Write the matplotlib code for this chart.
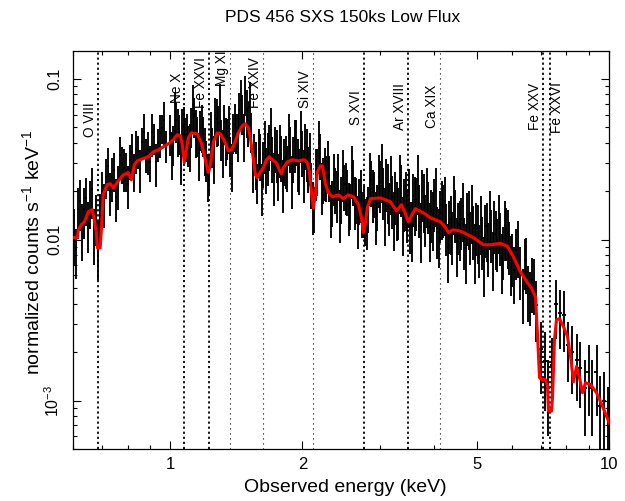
import numpy as np
import matplotlib.pyplot as plt
from matplotlib.ticker import NullFormatter

plt.rcParams['font.family'] = ['Liberation Sans', 'DejaVu Sans']
plt.rcParams['mathtext.fontset'] = 'custom'
plt.rcParams['mathtext.rm'] = 'Liberation Sans'
plt.rcParams['mathtext.it'] = 'Liberation Sans:italic'
plt.rcParams['mathtext.bf'] = 'Liberation Sans:bold'

# binned spectrum (keV, counts/s/keV), soft band
e_soft = [0.604, 0.617, 0.630, 0.643, 0.657, 0.671, 0.685, 0.700, 0.714, 0.730,
          0.745, 0.761, 0.777, 0.794, 0.810, 0.828, 0.845, 0.863, 0.882, 0.900,
          0.920, 0.939, 0.959, 0.979,
          0.610, 0.623, 0.636, 0.650, 0.664, 0.678, 0.692, 0.707, 0.722, 0.737,
          0.753, 0.769, 0.785, 0.802, 0.819, 0.836, 0.854, 0.872, 0.891, 0.910,
          0.929, 0.949, 0.969]
f_soft = [0.0113, 0.0155, 0.0120, 0.0181, 0.0175, 0.0113, 0.0093, 0.0202, 0.0247, 0.0201,
          0.0271, 0.0220, 0.0299, 0.0271, 0.0312, 0.0269, 0.0358, 0.0407, 0.0341, 0.0306,
          0.0432, 0.0398, 0.0495, 0.0388,
          0.0087, 0.0174, 0.0155, 0.0127, 0.0208, 0.0140, 0.0142, 0.0170, 0.0287, 0.0246,
          0.0183, 0.0336, 0.0281, 0.0222, 0.0350, 0.0366, 0.0277, 0.0465, 0.0361, 0.0468,
          0.0304, 0.0460, 0.0552]
err_soft = [0.0043, 0.0054, 0.0046, 0.0060, 0.0058, 0.0043, 0.0037, 0.0061, 0.0069, 0.0060,
            0.0073, 0.0066, 0.0078, 0.0073, 0.0078, 0.0070, 0.0082, 0.0090, 0.0082, 0.0077,
            0.0095, 0.0092, 0.0104, 0.0089,
            0.0030, 0.0061, 0.0054, 0.0044, 0.0073, 0.0049, 0.0050, 0.0051, 0.0086, 0.0074,
            0.0055, 0.0101, 0.0084, 0.0067, 0.0105, 0.0110, 0.0083, 0.0140, 0.0108, 0.0140,
            0.0091, 0.0138, 0.0166]

# 1-6 keV
e_mid = [1.000, 1.016, 1.032, 1.048, 1.065, 1.082, 1.099, 1.117, 1.134, 1.152,
         1.171, 1.189, 1.208, 1.228, 1.247, 1.267, 1.287, 1.308, 1.328, 1.349,
         1.371, 1.393, 1.415, 1.437, 1.460, 1.483, 1.507, 1.531, 1.555, 1.580,
         1.605, 1.630, 1.656, 1.682, 1.709, 1.736, 1.764, 1.792, 1.820, 1.849,
         1.878, 1.908, 1.938, 1.969, 2.000, 2.032, 2.064, 2.097, 2.130, 2.164,
         2.198, 2.233, 2.269, 2.305, 2.341, 2.378, 2.416, 2.454, 2.493, 2.533,
         2.573, 2.614, 2.655, 2.697, 2.740, 2.784, 2.828, 2.873, 2.918, 2.965,
         3.012, 3.060, 3.108, 3.158, 3.208, 3.259, 3.310, 3.363, 3.416, 3.470,
         3.525, 3.581, 3.638, 3.696, 3.755, 3.814, 3.875, 3.936, 3.999, 4.062,
         4.127, 4.192, 4.259, 4.326, 4.395, 4.465, 4.536, 4.608, 4.681, 4.755,
         4.831, 4.908, 4.986, 5.065, 5.145, 5.227, 5.310, 5.394, 5.480, 5.567,
         5.655, 5.745, 5.837, 5.929, 6.024]
f_mid = [0.0463, 0.0398, 0.0551, 0.0469, 0.0506, 0.0446, 0.0396, 0.0517, 0.0598, 0.0455,
         0.0496, 0.0454, 0.0319, 0.0261, 0.0389, 0.0594, 0.0529, 0.0431, 0.0536, 0.0437,
         0.0342, 0.0475, 0.0473, 0.0641, 0.0622, 0.0814, 0.0521, 0.0480, 0.0356, 0.0231,
         0.0343, 0.0308, 0.0283, 0.0394, 0.0330, 0.0381, 0.0258, 0.0334, 0.0319, 0.0290,
         0.0381, 0.0329, 0.0420, 0.0279, 0.0359, 0.0397, 0.0285, 0.0229, 0.0162, 0.0277,
         0.0346, 0.0244, 0.0252, 0.0251, 0.0176, 0.0211, 0.0257, 0.0185, 0.0222, 0.0207,
         0.0169, 0.0237, 0.0184, 0.0182, 0.0150, 0.0135, 0.0162, 0.0234, 0.0200, 0.0167,
         0.0228, 0.0206, 0.0232, 0.0165, 0.0183, 0.0194, 0.0155, 0.0215, 0.0174, 0.0149,
         0.0126, 0.0188, 0.0178, 0.0160, 0.0200, 0.0140, 0.0168, 0.0150, 0.0174, 0.0118,
         0.0148, 0.0160, 0.0123, 0.0127, 0.0109, 0.0150, 0.0125, 0.0134, 0.0101, 0.0144,
         0.0109, 0.0118, 0.0124, 0.0091, 0.0102, 0.0121, 0.0093, 0.0113, 0.0127, 0.0099,
         0.0108, 0.0088, 0.0116, 0.0094, 0.0080]
err_mid = [0.0130, 0.0110, 0.0154, 0.0131, 0.0142, 0.0125, 0.0111, 0.0145, 0.0167, 0.0127,
           0.0139, 0.0127, 0.0089, 0.0073, 0.0109, 0.0166, 0.0148, 0.0121, 0.0150, 0.0122,
           0.0096, 0.0133, 0.0132, 0.0179, 0.0174, 0.0228, 0.0146, 0.0134, 0.0100, 0.0065,
           0.0110, 0.0099, 0.0091, 0.0126, 0.0106, 0.0122, 0.0083, 0.0107, 0.0102, 0.0093,
           0.0122, 0.0105, 0.0134, 0.0089, 0.0115, 0.0127, 0.0091, 0.0073, 0.0052, 0.0089,
           0.0111, 0.0078, 0.0081, 0.0080, 0.0056, 0.0067, 0.0082, 0.0059, 0.0071, 0.0066,
           0.0054, 0.0076, 0.0059, 0.0058, 0.0048, 0.0043, 0.0052, 0.0075, 0.0064, 0.0053,
           0.0082, 0.0074, 0.0084, 0.0059, 0.0066, 0.0070, 0.0056, 0.0077, 0.0063, 0.0054,
           0.0045, 0.0068, 0.0064, 0.0058, 0.0072, 0.0050, 0.0060, 0.0054, 0.0063, 0.0042,
           0.0053, 0.0058, 0.0044, 0.0046, 0.0039, 0.0054, 0.0045, 0.0048, 0.0036, 0.0052,
           0.0039, 0.0043, 0.0045, 0.0033, 0.0037, 0.0044, 0.0034, 0.0041, 0.0046, 0.0036,
           0.0039, 0.0032, 0.0042, 0.0034, 0.0029]

# second grouping of the 1-6 keV band (interleaved bins)
e_mid2 = [1.008, 1.024, 1.040, 1.056, 1.073, 1.090, 1.108, 1.125, 1.143, 1.161,
          1.180, 1.199, 1.218, 1.237, 1.257, 1.277, 1.297, 1.318, 1.339, 1.360,
          1.382, 1.404, 1.426, 1.449, 1.472, 1.495, 1.519, 1.543, 1.567, 1.592,
          1.617, 1.643, 1.669, 1.696, 1.722, 1.750, 1.778, 1.806, 1.835, 1.864,
          1.893, 1.923, 1.954, 1.985, 2.016, 2.048, 2.081, 2.113, 2.147, 2.181,
          2.216, 2.251, 2.287, 2.323, 2.360, 2.397, 2.435, 2.474, 2.513, 2.553,
          2.594, 2.635, 2.676, 2.719, 2.762, 2.806, 2.850, 2.896, 2.941, 2.988,
          3.036, 3.084, 3.133, 3.183, 3.233, 3.285, 3.337, 3.390, 3.443, 3.498,
          3.553, 3.610, 3.667, 3.725, 3.784, 3.845, 3.906, 3.968, 4.031, 4.094,
          4.160, 4.225, 4.292, 4.360, 4.430, 4.500, 4.572, 4.644, 4.718, 4.793,
          4.869, 4.947, 5.025, 5.105, 5.186, 5.268, 5.352, 5.437, 5.523, 5.611,
          5.700, 5.791, 5.883, 5.976]
f_mid2 = [0.0349, 0.0624, 0.0488, 0.0326, 0.0504, 0.0456, 0.0392, 0.0692, 0.0481, 0.0347,
          0.0518, 0.0371, 0.0255, 0.0468, 0.0332, 0.0563, 0.0698, 0.0362, 0.0430, 0.0511,
          0.0296, 0.0527, 0.0453, 0.0740, 0.0456, 0.0639, 0.0717, 0.0292, 0.0304, 0.0368,
          0.0218, 0.0401, 0.0337, 0.0482, 0.0254, 0.0352, 0.0377, 0.0230, 0.0325, 0.0448,
          0.0244, 0.0406, 0.0311, 0.0467, 0.0264, 0.0358, 0.0339, 0.0167, 0.0271, 0.0400,
          0.0222, 0.0274, 0.0303, 0.0161, 0.0252, 0.0198, 0.0150, 0.0267, 0.0222, 0.0165,
          0.0281, 0.0180, 0.0137, 0.0199, 0.0159, 0.0135, 0.0254, 0.0199, 0.0146, 0.0246,
          0.0281, 0.0151, 0.0210, 0.0238, 0.0142, 0.0163, 0.0240, 0.0131, 0.0189, 0.0197,
          0.0122, 0.0176, 0.0239, 0.0120, 0.0183, 0.0199, 0.0121, 0.0142, 0.0200, 0.0111,
          0.0165, 0.0175, 0.0090, 0.0134, 0.0178, 0.0098, 0.0124, 0.0161, 0.0089, 0.0143,
          0.0156, 0.0089, 0.0118, 0.0133, 0.0074, 0.0121, 0.0144, 0.0080, 0.0108, 0.0136,
          0.0077, 0.0124, 0.0110, 0.0075]
err_mid2 = [0.0115, 0.0206, 0.0161, 0.0108, 0.0166, 0.0150, 0.0129, 0.0228, 0.0159, 0.0115,
            0.0171, 0.0122, 0.0084, 0.0154, 0.0110, 0.0186, 0.0230, 0.0119, 0.0142, 0.0169,
            0.0098, 0.0174, 0.0149, 0.0244, 0.0150, 0.0211, 0.0237, 0.0096, 0.0100, 0.0121,
            0.0078, 0.0144, 0.0121, 0.0174, 0.0091, 0.0127, 0.0136, 0.0083, 0.0117, 0.0161,
            0.0088, 0.0146, 0.0112, 0.0168, 0.0095, 0.0129, 0.0122, 0.0060, 0.0098, 0.0144,
            0.0080, 0.0099, 0.0109, 0.0058, 0.0091, 0.0071, 0.0054, 0.0096, 0.0080, 0.0059,
            0.0101, 0.0065, 0.0049, 0.0072, 0.0057, 0.0049, 0.0091, 0.0072, 0.0053, 0.0089,
            0.0112, 0.0060, 0.0084, 0.0095, 0.0057, 0.0065, 0.0096, 0.0052, 0.0076, 0.0079,
            0.0049, 0.0070, 0.0096, 0.0048, 0.0073, 0.0080, 0.0048, 0.0057, 0.0080, 0.0044,
            0.0066, 0.0070, 0.0036, 0.0054, 0.0071, 0.0039, 0.0050, 0.0064, 0.0036, 0.0057,
            0.0062, 0.0036, 0.0047, 0.0053, 0.0030, 0.0048, 0.0058, 0.0032, 0.0043, 0.0054,
            0.0031, 0.0050, 0.0044, 0.0030]

# Fe K band
e_hard = [6.152, 6.284, 6.418, 6.553, 6.692, 6.834, 6.981, 7.129, 7.278, 7.433,
          7.590, 7.752, 7.916, 8.083, 8.255, 8.434, 8.610, 8.794, 8.980, 9.170,
          9.365, 9.563, 9.766, 9.972,
          6.088, 6.218, 6.351, 6.485, 6.622, 6.763]
f_hard = [0.0086, 0.0066, 0.0075, 0.0050, 0.0056, 0.0039, 0.0021, 0.00176, 0.0012, 0.00166,
          0.0040, 0.0035, 0.0034, 0.0022, 0.0020, 0.0018, 0.0016, 0.0012, 0.0015, 0.0012,
          0.0015, 0.00093, 0.0010, 0.00081,
          0.0065, 0.0094, 0.0048, 0.0074, 0.0046, 0.0055]
err_hard = [0.0030, 0.0024, 0.0026, 0.0019, 0.0021, 0.0016, 0.0010, 0.0009, 0.0006, 0.0008,
            0.0016, 0.0014, 0.0014, 0.0009, 0.0009, 0.0008, 0.0007, 0.0006, 0.0007, 0.0006,
            0.0007, 0.0005, 0.0005, 0.0004,
            0.0025, 0.0036, 0.0018, 0.0028, 0.0017, 0.0021]

# best-fit model
model_e = [0.601, 0.614, 0.617, 0.627, 0.637, 0.650, 0.664, 0.671, 0.678, 0.682,
           0.692, 0.698, 0.703, 0.718, 0.730, 0.741, 0.753, 0.765, 0.781, 0.802,
           0.815, 0.828, 0.841, 0.863, 0.891, 0.915, 0.939, 0.964, 0.990, 1.011,
           1.037, 1.054, 1.065, 1.076, 1.088, 1.099, 1.117, 1.152, 1.177, 1.202,
           1.221, 1.234, 1.254, 1.280, 1.300, 1.328, 1.356, 1.378, 1.400, 1.429,
           1.459, 1.483, 1.506, 1.522, 1.547, 1.563, 1.579, 1.604, 1.630, 1.656,
           1.682, 1.708, 1.745, 1.772, 1.791, 1.810, 1.849, 1.897, 1.958, 2.021,
           2.053, 2.075, 2.097, 2.119, 2.141, 2.164, 2.198, 2.222, 2.257, 2.293,
           2.341, 2.416, 2.481, 2.547, 2.615, 2.684, 2.727, 2.755, 2.785, 2.814,
           2.859, 3.013, 3.175, 3.277, 3.364, 3.435, 3.490, 3.545, 3.620, 3.776,
           3.916, 4.129, 4.238, 4.305, 4.397, 4.538, 4.659, 4.909, 5.174, 5.369,
           5.657, 5.869, 6.057, 6.284, 6.519, 6.658, 6.799, 6.870, 6.943, 7.016,
           7.165, 7.240, 7.278, 7.394, 7.433, 7.511, 7.590, 7.711, 7.875, 8.043,
           8.172, 8.299, 8.434, 8.565, 8.701, 8.840, 9.075, 9.365, 9.665, 9.869,
           10.03]
model_f = [0.0103, 0.0103, 0.0115, 0.0124, 0.0129, 0.0149, 0.0154, 0.0133, 0.0112, 0.0089,
           0.0089, 0.0129, 0.0190, 0.0220, 0.0223, 0.0210, 0.0223, 0.0236, 0.0253, 0.0261,
           0.0236, 0.0292, 0.0309, 0.0318, 0.0328, 0.0352, 0.0362, 0.0378, 0.0395, 0.0412,
           0.0449, 0.0443, 0.0389, 0.0301, 0.0362, 0.0430, 0.0462, 0.0455, 0.0400, 0.0314,
           0.0261, 0.0292, 0.0406, 0.0462, 0.0455, 0.0412, 0.0357, 0.0362, 0.0395, 0.0462,
           0.0511, 0.0525, 0.0496, 0.0430, 0.0314, 0.0253, 0.0243, 0.0264, 0.0280, 0.0314,
           0.0328, 0.0314, 0.0301, 0.0272, 0.0257, 0.0280, 0.0305, 0.0314, 0.0309, 0.0314,
           0.0301, 0.0264, 0.0199, 0.0158, 0.0190, 0.0264, 0.0288, 0.0288, 0.0223, 0.0196,
           0.0185, 0.0190, 0.0180, 0.0190, 0.0185, 0.0165, 0.0137, 0.0111, 0.0129, 0.0158,
           0.0180, 0.0182, 0.0172, 0.0151, 0.0165, 0.0145, 0.0129, 0.0141, 0.0156, 0.0147,
           0.0137, 0.0129, 0.0119, 0.0111, 0.0115, 0.0114, 0.0111, 0.0103, 0.0093, 0.0093,
           0.0095, 0.0091, 0.0078, 0.0063, 0.0054, 0.0050, 0.0044, 0.0026, 0.00139, 0.00135,
           0.00135, 0.00124, 0.00086, 0.00086, 0.00104, 0.00239, 0.00318, 0.00323, 0.00288, 0.00250,
           0.00188, 0.00131, 0.00163, 0.00139, 0.00112, 0.00129, 0.00126, 0.00112, 0.00092, 0.00080,
           0.00072]

# line identifications (observed frame)
line_e = [0.684, 1.076, 1.225, 1.368, 1.624, 2.11, 2.76, 3.48, 4.11, 7.06, 7.33]
line_name = ['O VIII', 'Ne X', 'Fe XXVI', 'Mg XI', 'Fe XXIV', 'Si XIV',
             'S XVI', 'Ar XVIII', 'Ca XIX', 'Fe XXV', 'Fe XXVI']
line_strong = [True, True, True, False, False, False, True, True, False, True, True]
label_y = [0.784, 0.869, 0.857, 0.912, 0.857, 0.857, 0.814, 0.802, 0.807, 0.802, 0.794]

energy = np.array(e_soft + e_mid + e_mid2 + e_hard)
flux = np.array(f_soft + f_mid + f_mid2 + f_hard)
flux_err = np.array(err_soft + err_mid + err_mid2 + err_hard)
order = np.argsort(energy)
energy, flux, flux_err = energy[order], flux[order], flux_err[order]
half_bin = np.gradient(energy) / 2

fig = plt.figure(figsize=(6.25, 5.01), dpi=100)
ax = fig.add_axes([73 / 625, 52 / 501, 536 / 625, 398 / 501])

for e, name, strong, ly in zip(line_e, line_name, line_strong, label_y):
    if strong:
        ax.axvline(e, color='k', lw=1.3, ls=(0, (1.2, 1.6)), zorder=1)
    else:
        ax.axvline(e, color='k', lw=0.8, ls=(0, (1, 3.5)), zorder=1)
    if name == 'Fe XXVI' and e > 5:
        ax.text(e * 1.002, ly, name, rotation=90, ha='left', va='bottom',
                fontsize=9.8, transform=ax.get_xaxis_transform())
    else:
        ax.text(e / 1.003, ly, name, rotation=90, ha='right', va='bottom',
                fontsize=9.8, transform=ax.get_xaxis_transform())

ax.errorbar(energy, flux, yerr=flux_err, xerr=half_bin, fmt='none',
            ecolor='k', elinewidth=1.35, capsize=0, zorder=2)
ax.plot(model_e, model_f, color='red', lw=2.2, zorder=3)

ax.set_xscale('log')
ax.set_yscale('log')
ax.set_xlim(0.6, 10)
ax.set_ylim(5e-4, 0.149)

ax.set_xticks([1, 2, 5, 10])
ax.set_xticklabels(['1', '2', '5', '10'])
ax.xaxis.set_minor_formatter(NullFormatter())
ax.set_yticks([1e-3, 1e-2, 1e-1])
ax.set_yticklabels([r'$10^{-3}$', '0.01', '0.1'], rotation=90, va='center')
ax.yaxis.set_minor_formatter(NullFormatter())

ax.tick_params(which='both', direction='in', top=True, right=True, width=0.8)
ax.tick_params(which='major', length=6)
ax.tick_params(which='minor', length=3.2)
ax.tick_params(axis='x', labelsize=12, pad=6)
ax.tick_params(axis='y', labelsize=11.5, pad=8)
for s in ax.spines.values():
    s.set_linewidth(0.9)

fig.text(343 / 625, 1 - 17 / 501, 'PDS 456 SXS 150ks Low Flux', fontsize=12.5,
         ha='center', va='center')
fig.text(345 / 625, 1 - 488 / 501, 'Observed energy (keV)', fontsize=14,
         ha='center', va='center')
fig.text(32 / 625, 1 - 252 / 501, r'normalized counts s$^{-1}$ keV$^{-1}$',
         fontsize=14, rotation=90, ha='center', va='center')

fig.savefig('out.png', dpi=100)
